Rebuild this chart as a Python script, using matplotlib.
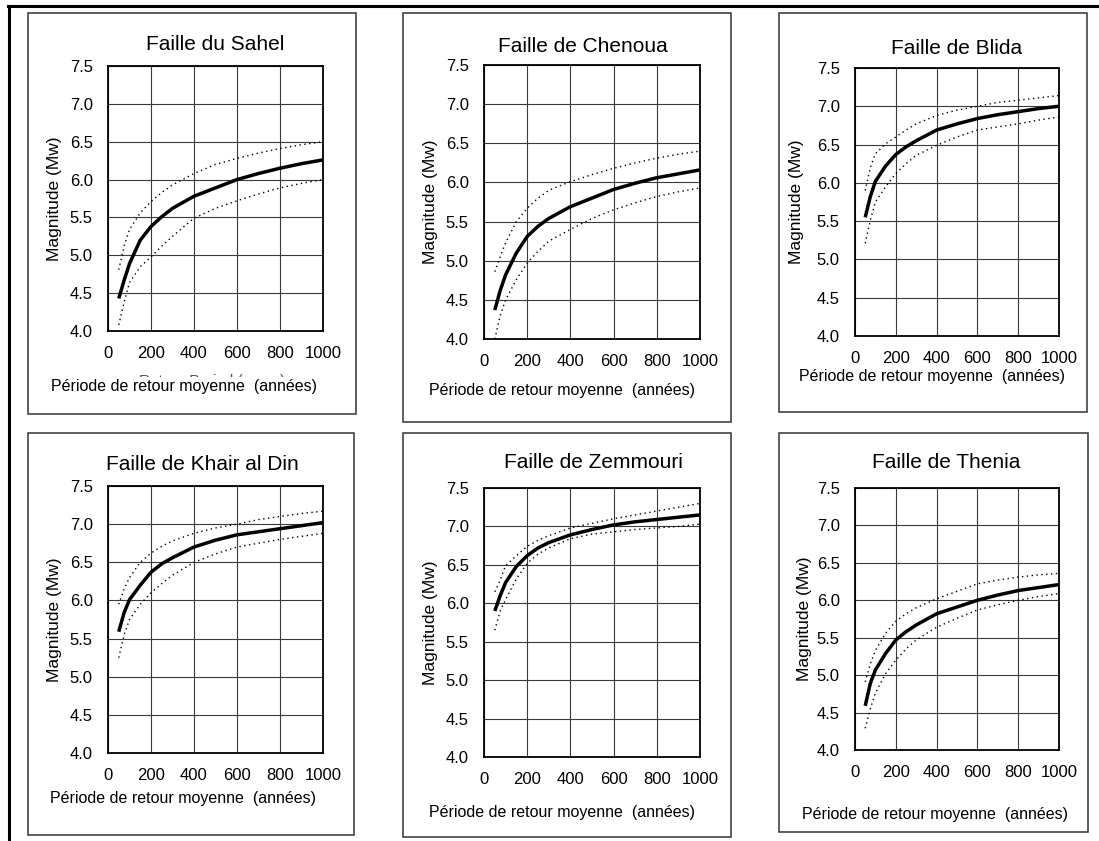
"""Courbes magnitude / période de retour moyenne pour six failles (Mw vs années)."""

import matplotlib
matplotlib.use("Agg")
import matplotlib.pyplot as plt
from matplotlib.patches import Rectangle
from matplotlib.lines import Line2D

plt.rcParams["font.family"] = ["Liberation Sans", "DejaVu Sans"]

W, H = 1099, 841

# --- data ---------------------------------------------------------------------
periods = [50, 75, 100, 150, 200, 250, 300, 400, 500, 600, 700, 800, 900, 1000]

titles = ["Faille du Sahel", "Faille de Chenoua", "Faille de Blida",
          "Faille de Khair al Din", "Faille de Zemmouri", "Faille de Thenia"]

sahel_mean = [4.43, 4.67, 4.89, 5.20, 5.38, 5.51, 5.62, 5.78, 5.89, 6.00, 6.08, 6.15, 6.21, 6.26]
sahel_hi = [4.81, 5.12, 5.34, 5.56, 5.71, 5.83, 5.93, 6.08, 6.20, 6.28, 6.35, 6.41, 6.46, 6.50]
sahel_lo = [4.08, 4.38, 4.64, 4.85, 4.98, 5.12, 5.25, 5.49, 5.62, 5.72, 5.81, 5.89, 5.95, 6.00]

chenoua_mean = [4.37, 4.62, 4.82, 5.10, 5.31, 5.44, 5.54, 5.69, 5.80, 5.91, 5.99, 6.06, 6.11, 6.16]
chenoua_hi = [4.86, 5.05, 5.23, 5.50, 5.67, 5.80, 5.90, 6.01, 6.10, 6.18, 6.25, 6.31, 6.36, 6.40]
chenoua_lo = [4.00, 4.30, 4.50, 4.76, 4.97, 5.12, 5.25, 5.40, 5.54, 5.65, 5.74, 5.82, 5.88, 5.93]

blida_mean = [5.55, 5.82, 6.02, 6.22, 6.37, 6.47, 6.55, 6.69, 6.77, 6.84, 6.89, 6.93, 6.97, 7.00]
blida_hi = [5.90, 6.20, 6.38, 6.51, 6.60, 6.69, 6.77, 6.88, 6.95, 7.00, 7.05, 7.08, 7.11, 7.14]
blida_lo = [5.21, 5.51, 5.75, 5.95, 6.12, 6.25, 6.36, 6.49, 6.60, 6.69, 6.73, 6.77, 6.82, 6.86]

khair_mean = [5.59, 5.84, 6.01, 6.20, 6.37, 6.48, 6.56, 6.70, 6.79, 6.86, 6.90, 6.94, 6.98, 7.02]
khair_hi = [5.95, 6.15, 6.30, 6.50, 6.62, 6.71, 6.78, 6.88, 6.95, 7.00, 7.06, 7.10, 7.14, 7.17]
khair_lo = [5.25, 5.55, 5.75, 5.95, 6.10, 6.22, 6.33, 6.50, 6.61, 6.70, 6.75, 6.80, 6.84, 6.88]

zemmouri_mean = [5.90, 6.10, 6.27, 6.48, 6.62, 6.72, 6.79, 6.89, 6.96, 7.02, 7.06, 7.09, 7.12, 7.15]
zemmouri_hi = [6.15, 6.30, 6.49, 6.62, 6.74, 6.82, 6.88, 6.98, 7.04, 7.10, 7.15, 7.20, 7.25, 7.30]
zemmouri_lo = [5.65, 5.90, 6.05, 6.32, 6.52, 6.64, 6.72, 6.84, 6.90, 6.93, 6.96, 6.98, 7.00, 7.03]

thenia_mean = [4.59, 4.89, 5.07, 5.29, 5.47, 5.58, 5.67, 5.82, 5.91, 6.00, 6.07, 6.13, 6.17, 6.21]
thenia_hi = [4.91, 5.15, 5.33, 5.56, 5.72, 5.82, 5.90, 6.02, 6.12, 6.22, 6.27, 6.31, 6.34, 6.36]
thenia_lo = [4.29, 4.55, 4.76, 5.02, 5.20, 5.35, 5.47, 5.64, 5.76, 5.87, 5.94, 6.00, 6.05, 6.09]

series = [
    (sahel_mean, sahel_hi, sahel_lo),
    (chenoua_mean, chenoua_hi, chenoua_lo),
    (blida_mean, blida_hi, blida_lo),
    (khair_mean, khair_hi, khair_lo),
    (zemmouri_mean, zemmouri_hi, zemmouri_lo),
    (thenia_mean, thenia_hi, thenia_lo),
]

x_ticks = [0, 200, 400, 600, 800, 1000]
y_ticks = [4.0, 4.5, 5.0, 5.5, 6.0, 6.5, 7.0, 7.5]
xlabel = "Période de retour moyenne  (années)"
ylabel = "Magnitude (Mw)"

# --- layout, in pixels of the 1099x841 page ------------------------------------
boxes = [(28, 13, 356, 414), (403, 13, 731, 422), (779, 13, 1087, 412),
         (28, 433, 354, 835), (403, 433, 731, 837), (779, 433, 1088, 832)]
axes_px = [(108, 66, 323, 331), (484, 65, 700, 339), (855, 68, 1059, 336),
           (108, 486, 323, 753), (484, 488, 700, 757), (855, 488, 1059, 750)]
title_xy = [(215, 45), (583, 47), (957, 48), (202, 465), (593, 463), (946, 462)]
xlabel_xy = [(184, 387), (562, 390), (932, 377), (183, 798), (562, 812), (935, 815)]
ylabel_x = [55, 431, 796, 55, 430, 805]


def fx(x):
    return x / W


def fy(y):
    return 1 - y / H


fig = plt.figure(figsize=(W / 100, H / 100), dpi=100)

# outer frame (top and left edges only)
fig.add_artist(Line2D([fx(9), fx(9)], [fy(841), fy(6)], color="black", lw=2.2,
                      transform=fig.transFigure))
fig.add_artist(Line2D([fx(8), fx(1099)], [fy(6), fy(6)], color="black", lw=2.2,
                      transform=fig.transFigure))

for i, (mean, hi, lo) in enumerate(series):
    x0, y0, x1, y1 = boxes[i]
    fig.add_artist(Rectangle((fx(x0), fy(y1)), fx(x1 - x0), (y1 - y0) / H,
                             fill=False, ec="#333333", lw=1.1,
                             transform=fig.transFigure))

    a0, b0, a1, b1 = axes_px[i]
    ax = fig.add_axes([fx(a0), fy(b1), fx(a1 - a0), (b1 - b0) / H])
    ax.plot(periods, hi, color="black", lw=1.0, ls=(0, (1, 2.5)))
    ax.plot(periods, lo, color="black", lw=1.0, ls=(0, (1, 2.5)))
    ax.plot(periods, mean, color="black", lw=2.5, solid_capstyle="butt")
    ax.set_xlim(0, 1000)
    ax.set_ylim(4.0, 7.5)
    ax.set_xticks(x_ticks)
    ax.set_yticks(y_ticks)
    ax.set_yticklabels([f"{v:.1f}" for v in y_ticks])
    ax.grid(True, color="#3a3a3a", lw=0.8)
    ax.set_axisbelow(True)
    ax.tick_params(length=0, labelsize=12, pad=11)
    for s in ax.spines.values():
        s.set_color("black")
        s.set_linewidth(1.3)

    tx, ty = title_xy[i]
    fig.text(fx(tx), fy(ty), titles[i], ha="center", va="center", fontsize=15)
    if i == 0:
        # English label left half-hidden under the French one in the source
        fig.text(fx(212), fy(381), "Return Period (years)", ha="center",
                 va="center", fontsize=11, color="#555555")
    lx, ly = xlabel_xy[i]
    fig.text(fx(lx), fy(ly), xlabel, ha="center", va="center", fontsize=11.5,
             bbox=dict(fc="white", ec="none", pad=1.5))
    fig.text(fx(ylabel_x[i]), fy((b0 + b1) / 2), ylabel, rotation=90,
             ha="center", va="center", fontsize=12.5)

fig.savefig("out.png", dpi=100)
